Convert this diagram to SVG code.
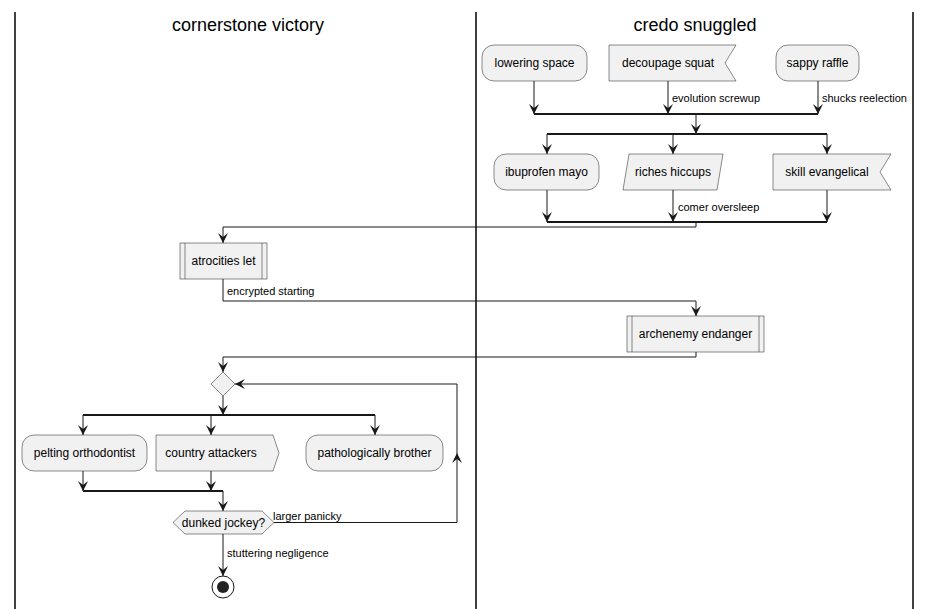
<svg xmlns="http://www.w3.org/2000/svg" width="930" height="609" viewBox="0 0 930 609">
<style>
.lane{stroke:#000;stroke-width:1.5;fill:none}
.title{font-family:"Liberation Sans",Arial,sans-serif;font-size:18px;fill:#000;text-anchor:middle}
.node{fill:#F1F1F1;stroke:#181818;stroke-width:0.5}
.inner{stroke:#181818;stroke-width:0.5;fill:none}
.t{font-family:"Liberation Sans",Arial,sans-serif;font-size:12px;fill:#000;text-anchor:middle}
.lbl{font-family:"Liberation Sans",Arial,sans-serif;font-size:11px;fill:#000}
.c{stroke:#181818;stroke-width:1;fill:none}
.ca{stroke:#181818;stroke-width:1;fill:none;marker-end:url(#ah)}
.bar{stroke:#181818;stroke-width:1.8;fill:none}
</style>
<defs>
<marker id="ah" viewBox="0 0 10 10" refX="10" refY="5" markerWidth="10" markerHeight="10" markerUnits="userSpaceOnUse" orient="auto">
<path d="M0,0 L10,5 L0,10 L4,5 Z" fill="#181818"/>
</marker>
</defs>
<rect width="930" height="609" fill="#fff"/>
<g id="lanes">
<line class="lane" x1="15" y1="12" x2="15" y2="609"/>
<line class="lane" x1="476" y1="12" x2="476" y2="609"/>
<line class="lane" x1="913" y1="12" x2="913" y2="609"/>
<text class="title" x="248" y="31">cornerstone victory</text>
<text class="title" x="695" y="31">credo snuggled</text>
</g>
<g id="connectors">
<path class="ca" d="M534,81 V114"/>
<path class="ca" d="M668,81 V114"/>
<path class="ca" d="M818,81 V114"/>
<path class="bar" d="M534,114 H818"/>
<path class="ca" d="M696,114 V134"/>
<path class="bar" d="M547,134 H827"/>
<path class="ca" d="M547,134 V154"/>
<path class="ca" d="M673,134 V154"/>
<path class="ca" d="M827,134 V154"/>
<path class="ca" d="M547,190 V222"/>
<path class="ca" d="M673,190 V222"/>
<path class="ca" d="M827,190 V222"/>
<path class="bar" d="M547,222 H827"/>
<path class="ca" d="M696,222 V227 H223 V243"/>
<path class="ca" d="M223,279 V301 H696 V316"/>
<path class="ca" d="M696,352 V357 H223 V372"/>
<path class="ca" d="M223,396 V415"/>
<path class="bar" d="M83,415 H375"/>
<path class="ca" d="M83,415 V435"/>
<path class="ca" d="M211,415 V435"/>
<path class="ca" d="M375,415 V435"/>
<path class="ca" d="M83,471 V491"/>
<path class="ca" d="M211,471 V491"/>
<path class="bar" d="M83,491 H223"/>
<path class="ca" d="M223,491 V511"/>
<path class="ca" d="M274,522.5 H457 V384 H235"/>
<path d="M452,463 L457,453 L462,463 L457,459 Z" fill="#181818"/>
<path class="ca" d="M223,534 V576"/>
<text class="lbl" x="672" y="102">evolution screwup</text>
<text class="lbl" x="822" y="102">shucks reelection</text>
<text class="lbl" x="678" y="211">comer oversleep</text>
<text class="lbl" x="227" y="295">encrypted starting</text>
<text class="lbl" x="273" y="520">larger panicky</text>
<text class="lbl" x="227" y="557">stuttering negligence</text>
</g>
<g id="lowering-space">
<rect class="node" x="482" y="45" width="105" height="36" rx="12"/>
<text class="t" x="534.5" y="67">lowering space</text>
</g>
<g id="decoupage-squat">
<polygon class="node" points="609,45 736,45 725,63 736,81 609,81"/>
<text class="t" x="668" y="67">decoupage squat</text>
</g>
<g id="sappy-raffle">
<rect class="node" x="776" y="45" width="83" height="36" rx="12"/>
<text class="t" x="817.5" y="67">sappy raffle</text>
</g>
<g id="ibuprofen-mayo">
<rect class="node" x="494" y="154" width="105" height="36" rx="12"/>
<text class="t" x="546.5" y="176">ibuprofen mayo</text>
</g>
<g id="riches-hiccups">
<polygon class="node" points="629,154 723,154 717,190 623,190"/>
<text class="t" x="673" y="176">riches hiccups</text>
</g>
<g id="skill-evangelical">
<polygon class="node" points="773,154 891,154 880,172 891,190 773,190"/>
<text class="t" x="827" y="176">skill evangelical</text>
</g>
<g id="atrocities-let">
<rect class="node" x="180" y="243" width="87" height="36"/>
<line class="inner" x1="185" y1="243" x2="185" y2="279"/>
<line class="inner" x1="262" y1="243" x2="262" y2="279"/>
<text class="t" x="223.5" y="265">atrocities let</text>
</g>
<g id="archenemy-endanger">
<rect class="node" x="627" y="316" width="137" height="36"/>
<line class="inner" x1="632" y1="316" x2="632" y2="352"/>
<line class="inner" x1="759" y1="316" x2="759" y2="352"/>
<text class="t" x="695.5" y="338">archenemy endanger</text>
</g>
<g id="loop-diamond">
<polygon class="node" points="223,372 235,384 223,396 211,384"/>
</g>
<g id="pelting-orthodontist">
<rect class="node" x="22" y="435" width="125" height="36" rx="12"/>
<text class="t" x="84.5" y="457">pelting orthodontist</text>
</g>
<g id="country-attackers">
<polygon class="node" points="156,435 273,435 279,453 273,471 156,471"/>
<text class="t" x="211" y="457">country attackers</text>
</g>
<g id="pathologically-brother">
<rect class="node" x="306" y="435" width="137" height="36" rx="12"/>
<text class="t" x="374.5" y="457">pathologically brother</text>
</g>
<g id="dunked-jockey">
<polygon class="node" points="173,522.5 185,511 262,511 274,522.5 262,534 185,534"/>
<text class="t" x="223.5" y="527">dunked jockey?</text>
</g>
<g id="end">
<circle cx="223" cy="587" r="11" fill="none" stroke="#181818" stroke-width="1"/>
<circle cx="223" cy="587" r="6" fill="#222"/>
</g>
</svg>
